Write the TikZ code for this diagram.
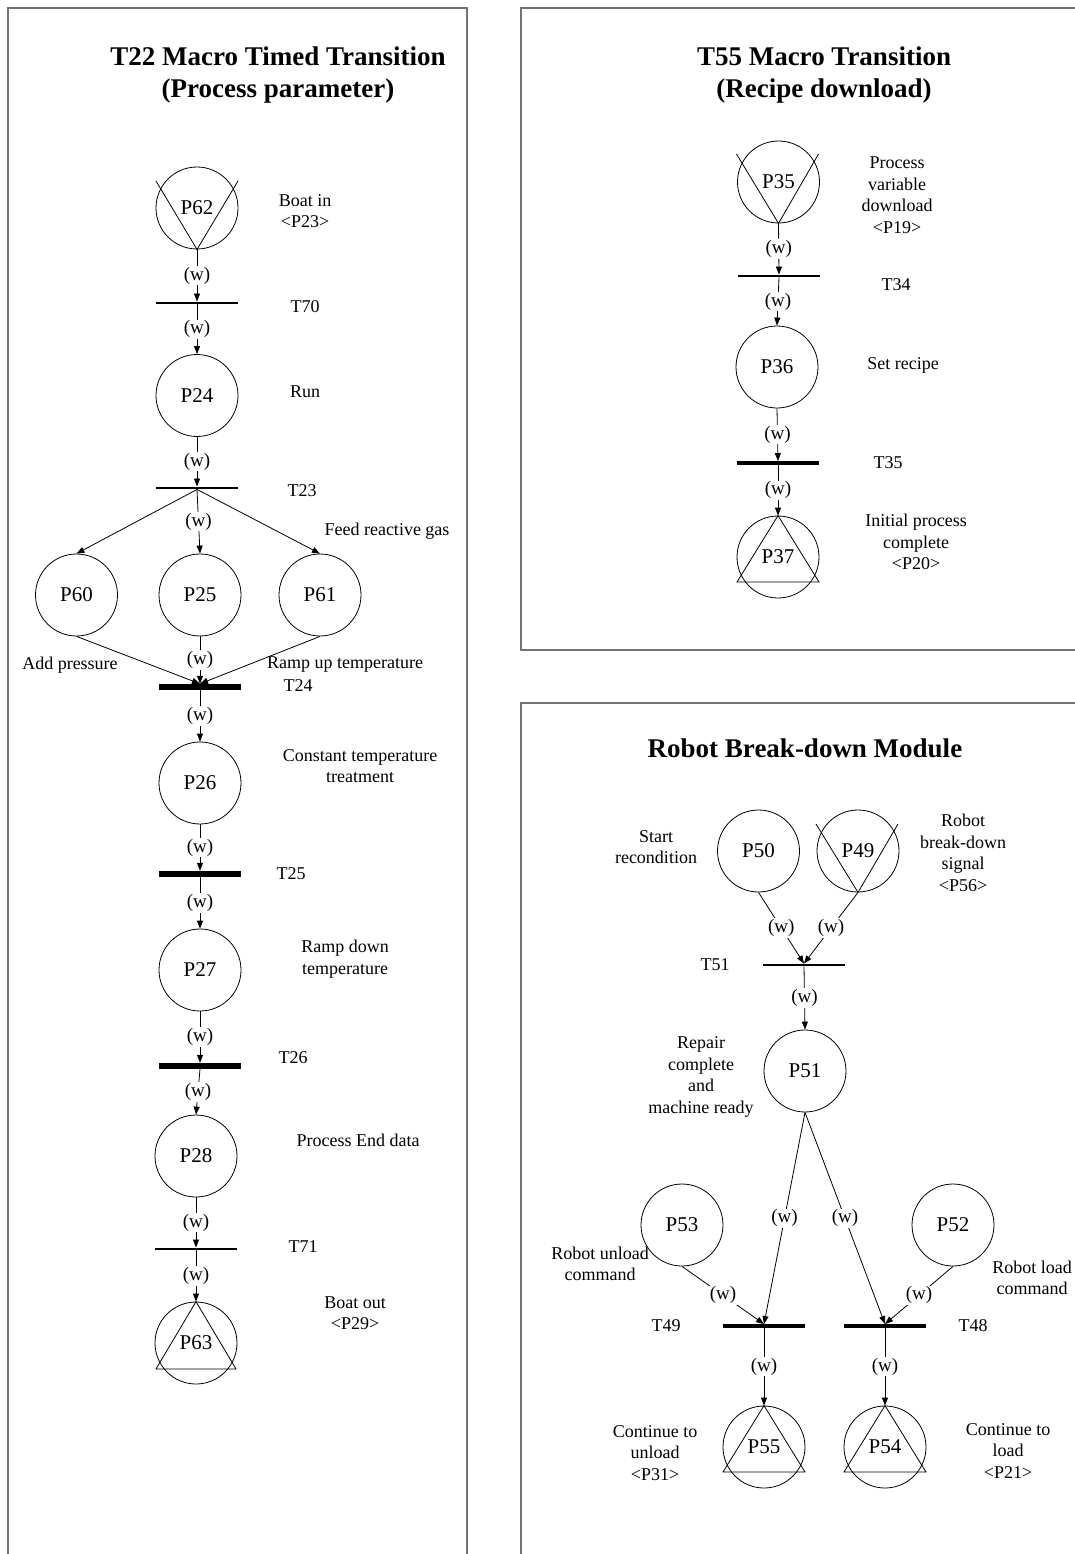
\documentclass[tikz,border=0pt]{standalone}
\usepackage{fontspec}
\setmainfont{Liberation Serif}
\usetikzlibrary{arrows.meta}
\begin{document}
\begin{tikzpicture}[x=1pt,y=-1pt,
  place/.style={circle,draw,line width=0.8pt,minimum size=82pt,inner sep=0pt,font=\fontsize{21}{24}\selectfont},
  trans/.style={rectangle,fill=black,minimum width=82pt,minimum height=2.5pt,inner sep=0pt},
  transmid/.style={trans,minimum height=3.5pt},
  transthick/.style={trans,minimum height=6pt},
  lbl/.style={align=center,font=\fontsize{18}{21.5}\selectfont,inner sep=0pt},
  arc/.style={line width=0.8pt,-{Triangle[length=8pt,width=6pt]}},
  wl/.style={fill=white,inner sep=1pt,font=\fontsize{19}{22}\selectfont},
  marker/.style={line width=0.8pt},
  frame/.style={draw=black!55,line width=1.3pt},
  ttl/.style={align=center,font=\fontsize{27}{32}\selectfont\bfseries}
]
\useasboundingbox (0,0) rectangle (1075,1554);
% frames
\draw[frame] (8,1570) -- (8,8) -- (467,8) -- (467,1570);
\draw[frame] (1090,8) -- (521,8) -- (521,650) -- (1090,650);
\draw[frame] (1090,703) -- (521,703) -- (521,1570);

% ---------------- Left panel ----------------
\node[ttl] (title1) at (278,75) {T22 Macro Timed Transition\\(Process parameter)};

\node[place] (P62) at (197,208) {P62};
\node[trans] (T70) at (197,303) {};
\node[place] (P24) at (197,395.5) {P24};
\node[trans] (T23) at (197,488) {};
\node[place] (P60) at (76.5,595) {P60};
\node[place] (P25) at (200,595) {P25};
\node[place] (P61) at (320,595) {P61};
\node[transthick] (T24) at (200,687) {};
\node[place] (P26) at (200,783) {P26};
\node[transthick] (T25) at (200,874) {};
\node[place] (P27) at (200,970) {P27};
\node[transthick] (T26) at (200,1066) {};
\node[place] (P28) at (196,1156) {P28};
\node[trans] (T71) at (196,1249) {};
\node[place] (P63) at (196,1343) {P63};

\draw[marker] ([shift={(-41,-27)}]P62.center) -- (P62.south) -- ([shift={(41,-27)}]P62.center);
\draw[marker] (P63.north) -- ([shift={(-40,26)}]P63.center) -- ([shift={(40,26)}]P63.center) -- cycle;

\draw[arc] (P62.south) -- node[wl]{(w)} (T70.north);
\draw[arc] (T70.south) -- node[wl]{(w)} (P24.north);
\draw[arc] (P24.south) -- node[wl]{(w)} (T23.north);
\draw[arc] (T23.south) -- (P60.north);
\draw[arc] (T23.south) -- node[wl]{(w)} (P25.north);
\draw[arc] (T23.south) -- (P61.north);
\draw[arc] (P60.south) -- (T24.north);
\draw[arc] (P25.south) -- node[wl]{(w)} (T24.north);
\draw[arc] (P61.south) -- (T24.north);
\draw[arc] (T24.south) -- node[wl]{(w)} (P26.north);
\draw[arc] (P26.south) -- node[wl]{(w)} (T25.north);
\draw[arc] (T25.south) -- node[wl]{(w)} (P27.north);
\draw[arc] (P27.south) -- node[wl]{(w)} (T26.north);
\draw[arc] (T26.south) -- node[wl]{(w)} (P28.north);
\draw[arc] (P28.south) -- node[wl]{(w)} (T71.north);
\draw[arc] (T71.south) -- node[wl]{(w)} (P63.north);

\node[lbl] (lP62) at (305,211) {Boat in\\<P23>};
\node[lbl] (lT70) at (305,307) {T70};
\node[lbl] (lP24) at (305,392) {Run};
\node[lbl] (lT23) at (302,491) {T23};
\node[lbl] (lP61) at (387,531) {Feed reactive gas};
\node[lbl] (lP60) at (70,665) {Add pressure};
\node[lbl] (lP25) at (345,665) {Ramp up temperature};
\node[lbl] (lT24) at (298,686) {T24};
\node[lbl] (lP26) at (360,766) {Constant temperature\\treatment};
\node[lbl] (lT25) at (291,874) {T25};
\node[lbl] (lP27) at (345,959) {Ramp down\\temperature};
\node[lbl] (lT26) at (293,1058) {T26};
\node[lbl] (lP28) at (358,1140) {Process End data};
\node[lbl] (lT71) at (303,1247) {T71};
\node[lbl] (lP63) at (355,1313) {Boat out\\<P29>};

% ---------------- Right top panel ----------------
\node[ttl] (title2) at (824,75) {T55 Macro Transition\\(Recipe download)};

\node[place] (P35) at (778.5,182) {P35};
\node[trans] (T34) at (779,276) {};
\node[place] (P36) at (777,367) {P36};
\node[transmid] (T35) at (778,463) {};
\node[place] (P37) at (778,557) {P37};

\draw[marker] ([shift={(-42,-28)}]P35.center) -- (P35.south) -- ([shift={(40,-28)}]P35.center);
\draw[marker] (P37.north) -- ([shift={(-41,25)}]P37.center) -- ([shift={(41,25)}]P37.center) -- cycle;

\draw[arc] (P35.south) -- node[wl]{(w)} (T34.north);
\draw[arc] (T34.south) -- node[wl]{(w)} (P36.north);
\draw[arc] (P36.south) -- node[wl]{(w)} (T35.north);
\draw[arc] (T35.south) -- node[wl]{(w)} (P37.north);

\node[lbl] (lP35) at (897,195) {Process\\variable\\download\\<P19>};
\node[lbl] (lT34) at (896,285) {T34};
\node[lbl] (lP36) at (903,365) {Set recipe};
\node[lbl] (lT35) at (888,463) {T35};
\node[lbl] (lP37) at (916,542) {Initial process\\complete\\<P20>};

% ---------------- Right bottom panel ----------------
\node[ttl,anchor=base] (title3) at (805,757) {Robot Break-down Module};

\node[place] (P50) at (758.5,851) {P50};
\node[place] (P49) at (858,851) {P49};
\node[trans] (T51) at (804,965) {};
\node[place] (P51) at (805,1071) {P51};
\node[place] (P53) at (682,1225) {P53};
\node[place] (P52) at (953,1225) {P52};
\node[transmid] (T49) at (764,1326) {};
\node[transmid] (T48) at (885,1326) {};
\node[place] (P55) at (764,1447) {P55};
\node[place] (P54) at (885,1447) {P54};

\draw[marker] ([shift={(-42,-27)}]P49.center) -- (P49.south) -- ([shift={(40,-27)}]P49.center);
\draw[marker] (P55.north) -- ([shift={(-41,25)}]P55.center) -- ([shift={(41,25)}]P55.center) -- cycle;
\draw[marker] (P54.north) -- ([shift={(-41,25)}]P54.center) -- ([shift={(41,25)}]P54.center) -- cycle;

\draw[arc] (P50.south) -- node[wl]{(w)} (T51.north);
\draw[arc] (P49.south) -- node[wl]{(w)} (T51.north);
\draw[arc] (T51.south) -- node[wl]{(w)} (P51.north);
\draw[arc] (P51.south) -- node[wl]{(w)} (T49.north);
\draw[arc] (P51.south) -- node[wl]{(w)} (T48.north);
\draw[arc] (P53.south) -- node[wl]{(w)} (T49.north);
\draw[arc] (P52.south) -- node[wl]{(w)} (T48.north);
\draw[arc] (T49.south) -- node[wl]{(w)} (P55.north);
\draw[arc] (T48.south) -- node[wl]{(w)} (P54.north);

\node[lbl] (lP50) at (656,847) {Start\\recondition};
\node[lbl] (lP49) at (963,853) {Robot\\break-down\\signal\\<P56>};
\node[lbl] (lT51) at (715,965) {T51};
\node[lbl] (lP51) at (701,1077) {Repair\\complete\\and\\machine ready};
\node[lbl] (lP53) at (600,1264) {Robot unload\\command};
\node[lbl] (lP52) at (1032,1278) {Robot load\\command};
\node[lbl] (lT49) at (666,1326) {T49};
\node[lbl] (lT48) at (973,1326) {T48};
\node[lbl] (lP55) at (655,1453) {Continue to\\unload\\<P31>};
\node[lbl] (lP54) at (1008,1451) {Continue to\\load\\<P21>};
\end{tikzpicture}
\end{document}
